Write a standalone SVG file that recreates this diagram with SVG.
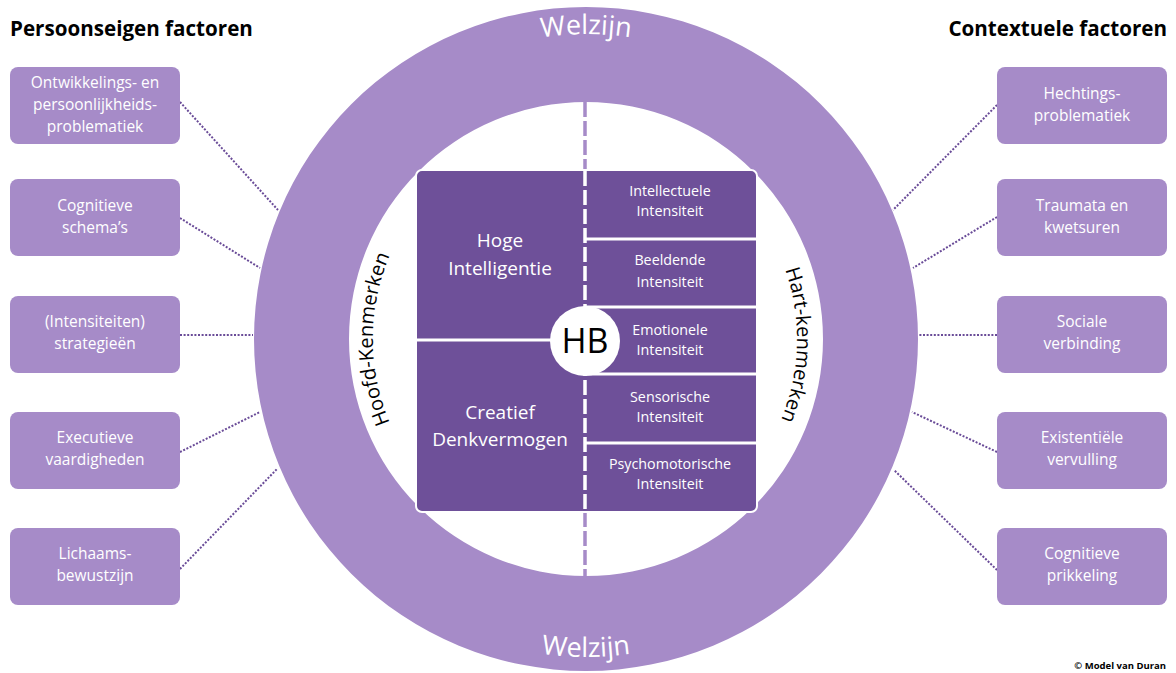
<svg xmlns="http://www.w3.org/2000/svg" width="1176" height="673" viewBox="0 0 1176 673">
<style>
.box{fill:#a68bc8}
.dark{fill:#6e5099}
.bt{font-family:"Open Sans","Liberation Sans",sans-serif;font-size:15.5px;fill:#ffffff;text-anchor:middle}
.ct{font-family:"Open Sans","Liberation Sans",sans-serif;font-size:14.3px;fill:#ffffff;text-anchor:middle}
.lt{font-family:"Open Sans","Liberation Sans",sans-serif;font-size:19px;fill:#ffffff;text-anchor:middle}
.title{font-family:"Open Sans","Liberation Sans",sans-serif;font-size:20.6px;font-weight:bold;fill:#000000}
.arc{font-family:"Open Sans","Liberation Sans",sans-serif;font-size:20px;fill:#000000}
.wz{font-family:"Open Sans","Liberation Sans",sans-serif;font-size:27px;fill:#ffffff}
.conn{stroke:#6a4c98;stroke-width:2;stroke-dasharray:2 1.6;fill:none}
.sep{stroke:#ffffff;stroke-width:3}
</style>
<defs>
<path id="pTop" d="M 281 339 A 305 305 0 0 1 891 339"/>
<path id="pBot" d="M 268 339 A 318 318 0 0 0 904 339"/>
<path id="pLeft" d="M 549.0 548.8 A 213 213 0 0 1 549.0 129.2"/>
<path id="pRight" d="M 622.6 131.2 A 211 211 0 0 1 622.6 546.8"/>
</defs>
<rect width="1176" height="673" fill="#ffffff"/>

<g id="connectors">
<line class="conn" x1="180" y1="102" x2="278" y2="210"/>
<line class="conn" x1="180" y1="218" x2="260" y2="268"/>
<line class="conn" x1="180" y1="335" x2="253" y2="335"/>
<line class="conn" x1="180" y1="452" x2="260" y2="412"/>
<line class="conn" x1="180" y1="569" x2="277" y2="469"/>
<line class="conn" x1="997" y1="105" x2="893" y2="210"/>
<line class="conn" x1="997" y1="217" x2="913" y2="268"/>
<line class="conn" x1="997" y1="335" x2="919" y2="335"/>
<line class="conn" x1="997" y1="452" x2="912" y2="412"/>
<line class="conn" x1="997" y1="570" x2="894" y2="470"/>
</g>

<g id="ring">
<path class="box" fill-rule="evenodd" d="M 254 339 A 332 332 0 1 0 918 339 A 332 332 0 1 0 254 339 Z M 349 339 A 237 237 0 1 0 823 339 A 237 237 0 1 0 349 339 Z"/>
<text class="wz"><textPath href="#pTop" startOffset="50%" text-anchor="middle">Welzijn</textPath></text>
<text class="wz"><textPath href="#pBot" startOffset="50%" text-anchor="middle">Welzijn</textPath></text>
</g>

<g id="axis">
<line x1="585" y1="102" x2="585" y2="170" stroke="#a68bc8" stroke-width="3.5" stroke-dasharray="15 4"/>
<line x1="585" y1="512" x2="585" y2="577" stroke="#a68bc8" stroke-width="3.5" stroke-dasharray="15 4"/>
</g>

<g id="hoofd-kenmerken">
<text class="arc"><textPath href="#pLeft" startOffset="50%" text-anchor="middle">Hoofd-Kenmerken</textPath></text>
</g>
<g id="hart-kenmerken">
<text class="arc"><textPath href="#pRight" startOffset="51%" text-anchor="middle">Hart-kenmerken</textPath></text>
</g>

<g id="core">
<rect class="dark" x="416" y="170" width="341" height="342" rx="6" stroke="#ffffff" stroke-width="2"/>
<line x1="585" y1="171" x2="585" y2="511" stroke="#ffffff" stroke-width="3.5" stroke-dasharray="15 4"/>
<line class="sep" x1="417" y1="340" x2="585" y2="340"/>
<line class="sep" x1="585" y1="239" x2="756" y2="239"/>
<line class="sep" x1="585" y1="307" x2="756" y2="307"/>
<line class="sep" x1="585" y1="374" x2="756" y2="374"/>
<line class="sep" x1="585" y1="443" x2="756" y2="443"/>
</g>

<g id="hoge-intelligentie">
<text class="lt" x="500" y="247">Hoge</text>
<text class="lt" x="500" y="275">Intelligentie</text>
</g>
<g id="creatief-denkvermogen">
<text class="lt" x="500" y="419">Creatief</text>
<text class="lt" x="500" y="446">Denkvermogen</text>
</g>
<g id="intellectuele">
<text class="ct" x="670" y="196">Intellectuele</text>
<text class="ct" x="670" y="216">Intensiteit</text>
</g>
<g id="beeldende">
<text class="ct" x="670" y="265">Beeldende</text>
<text class="ct" x="670" y="287">Intensiteit</text>
</g>
<g id="emotionele">
<text class="ct" x="670" y="335">Emotionele</text>
<text class="ct" x="670" y="355">Intensiteit</text>
</g>
<g id="sensorische">
<text class="ct" x="670" y="402">Sensorische</text>
<text class="ct" x="670" y="422">Intensiteit</text>
</g>
<g id="psychomotorische">
<text class="ct" x="670" y="469">Psychomotorische</text>
<text class="ct" x="670" y="489">Intensiteit</text>
</g>
<g id="hb">
<circle cx="585" cy="341" r="35" fill="#ffffff"/>
<text x="585" y="353" font-family="Open Sans, Liberation Sans, sans-serif" font-size="34" fill="#000000" text-anchor="middle">HB</text>
</g>

<text class="title" x="10" y="36">Persoonseigen factoren</text>
<text class="title" x="1167" y="36" text-anchor="end">Contextuele factoren</text>

<g id="l1"><rect class="box" x="10" y="67" width="170" height="77" rx="8"/>
<text class="bt" x="95" y="88">Ontwikkelings- en</text><text class="bt" x="95" y="110">persoonlijkheids-</text><text class="bt" x="95" y="132">problematiek</text></g>
<g id="l2"><rect class="box" x="10" y="179" width="170" height="77" rx="8"/>
<text class="bt" x="95" y="211">Cognitieve</text><text class="bt" x="95" y="233">schema’s</text></g>
<g id="l3"><rect class="box" x="10" y="296" width="170" height="77" rx="8"/>
<text class="bt" x="95" y="327">(Intensiteiten)</text><text class="bt" x="95" y="349">strategieën</text></g>
<g id="l4"><rect class="box" x="10" y="412" width="170" height="77" rx="8"/>
<text class="bt" x="95" y="443">Executieve</text><text class="bt" x="95" y="465">vaardigheden</text></g>
<g id="l5"><rect class="box" x="10" y="528" width="170" height="77" rx="8"/>
<text class="bt" x="95" y="559">Lichaams-</text><text class="bt" x="95" y="581">bewustzijn</text></g>

<g id="r1"><rect class="box" x="997" y="67" width="170" height="77" rx="8"/>
<text class="bt" x="1082" y="99">Hechtings-</text><text class="bt" x="1082" y="121">problematiek</text></g>
<g id="r2"><rect class="box" x="997" y="179" width="170" height="77" rx="8"/>
<text class="bt" x="1082" y="211">Traumata en</text><text class="bt" x="1082" y="233">kwetsuren</text></g>
<g id="r3"><rect class="box" x="997" y="296" width="170" height="77" rx="8"/>
<text class="bt" x="1082" y="327">Sociale</text><text class="bt" x="1082" y="349">verbinding</text></g>
<g id="r4"><rect class="box" x="997" y="412" width="170" height="77" rx="8"/>
<text class="bt" x="1082" y="443">Existentiële</text><text class="bt" x="1082" y="465">vervulling</text></g>
<g id="r5"><rect class="box" x="997" y="528" width="170" height="77" rx="8"/>
<text class="bt" x="1082" y="559">Cognitieve</text><text class="bt" x="1082" y="581">prikkeling</text></g>

<text x="1166" y="669" font-family="Open Sans, Liberation Sans, sans-serif" font-size="9.5" font-weight="bold" fill="#000000" text-anchor="end">© Model van Duran</text>
</svg>
